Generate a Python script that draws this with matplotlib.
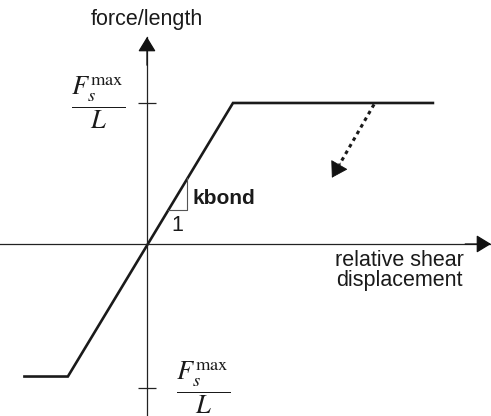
import matplotlib
matplotlib.use('Agg')
import matplotlib.pyplot as plt

plt.rcParams['font.family'] = ['Liberation Sans', 'DejaVu Sans']
plt.rcParams['mathtext.fontset'] = 'stix'

# bond-slip law: force per unit length vs relative shear displacement
disp = [-1.44, -0.92, 1.0, 3.34]
force = [-0.94, -0.94, 1.0, 1.0]
f_levels = [1.0, -1.02]          # +/- F_s^max / L

# unloading path off the upper plateau
unload_disp = [2.64, 2.15]
unload_force = [0.99, 0.47]

# kbond slope triangle
tri_disp = [0.24, 0.47, 0.47]
tri_force = [0.24, 0.24, 0.47]

xmin, xmax = -1.709, 4.0
ymin, ymax = -1.220, 1.468

ink = '#1a1a1a'
axis_col = '#222222'

fig = plt.figure(figsize=(4.91, 4.16), dpi=100)
ax = fig.add_axes([0, 0, 1, 379 / 416])
ax.set_xlim(xmin, xmax)
ax.set_ylim(ymin, ymax)

# axes through the origin
for side in ['top', 'right']:
    ax.spines[side].set_visible(False)
for side in ['left', 'bottom']:
    ax.spines[side].set_position(('data', 0))
    ax.spines[side].set_linewidth(0.9)
    ax.spines[side].set_color(axis_col)
ax.set_xticks([])
ax.set_yticks(f_levels)
ax.tick_params(axis='y', direction='inout', length=12.5, width=0.9,
               color=axis_col, labelleft=False)
ax.patch.set_alpha(0)

head = dict(arrowstyle='-|>,head_length=0.9,head_width=0.55',
            mutation_scale=10, color='#111111', lw=0.9,
            shrinkA=0, shrinkB=0)
ax.annotate('', xy=(0, ymax), xytext=(0, ymax - 0.2),
            arrowprops=head, annotation_clip=False)
ax.annotate('', xy=(xmax, 0), xytext=(xmax - 0.3, 0),
            arrowprops=head, annotation_clip=False)

# bond-slip curve
ax.plot(disp, force, color=ink, lw=1.9, solid_joinstyle='miter',
        solid_capstyle='butt')

# slope triangle
ax.plot(tri_disp, tri_force, color='#555555', lw=0.8)

# unloading arrow (dotted shaft + solid head)
dx = unload_disp[1] - unload_disp[0]
dy = unload_force[1] - unload_force[0]
t = 0.82
ax.plot([unload_disp[0], unload_disp[0] + t * dx],
        [unload_force[0], unload_force[0] + t * dy],
        color=ink, lw=2.2, ls=(0, (1.2, 1.3)))
ax.annotate('', xy=(unload_disp[1], unload_force[1]),
            xytext=(unload_disp[0] + 0.8 * dx, unload_force[0] + 0.8 * dy),
            arrowprops=dict(arrowstyle='-|>,head_length=1.0,head_width=0.62',
                            mutation_scale=10, color='#111111', lw=0.6,
                            shrinkA=0, shrinkB=0))

# labels
ax.text(0, 1.589, 'force/length', ha='center', va='center',
        fontsize=15.5, color=ink, clip_on=False)
frac = r'$\dfrac{F_s^{\mathrm{max}}}{L}$'
ax.text(-0.57, f_levels[0], frac, ha='center', va='center',
        fontsize=19, color=ink)
ax.text(0.65, f_levels[1], frac, ha='center', va='center',
        fontsize=19, color=ink)
ax.text(0.535, 0.326, 'kbond', ha='left', va='center',
        fontsize=15, fontweight='bold', color=ink)
ax.text(0.35, 0.128, '1', ha='center', va='center',
        fontsize=15.5, color=ink)
ax.text(2.93, -0.043, 'relative shear\ndisplacement', ha='center', va='top',
        fontsize=15.5, linespacing=0.95, color=ink)

fig.savefig('out.png', dpi=100)
